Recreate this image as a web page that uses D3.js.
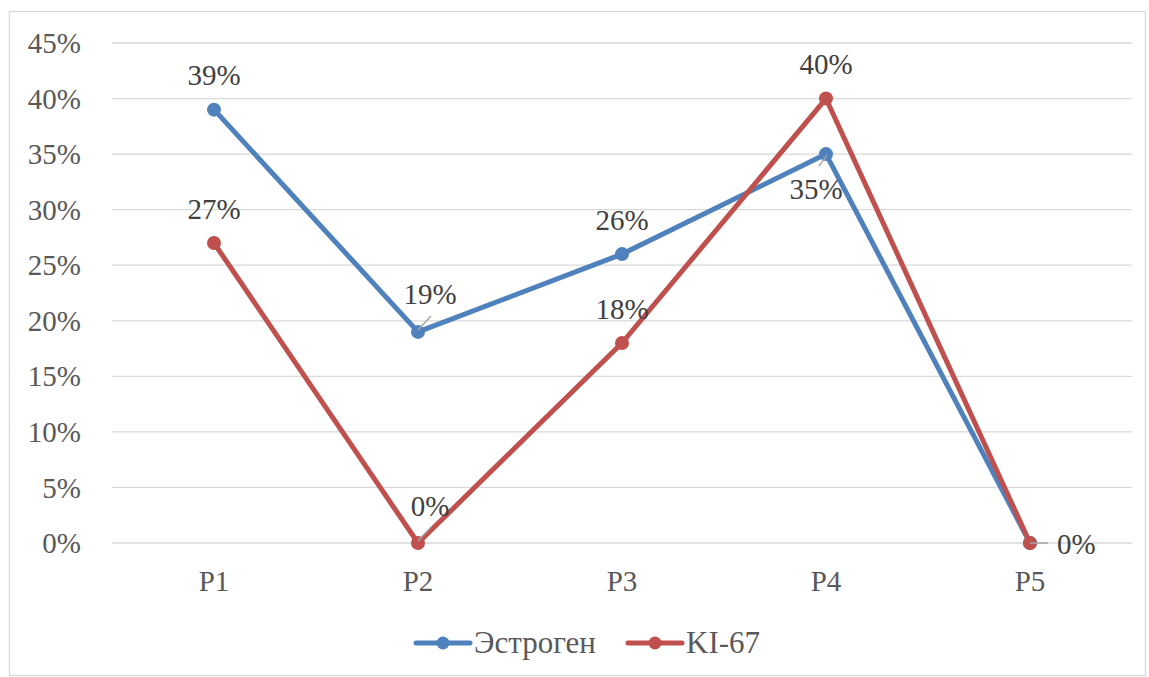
<!DOCTYPE html>
<html>
<head>
<meta charset="utf-8">
<script src="https://cdn.jsdelivr.net/npm/d3@7"></script>
<style>
  html, body { margin: 0; padding: 0; background: #fff; }
  svg { display: block; }
  svg text { font-family: "Liberation Serif", "Times New Roman", "DejaVu Serif", serif; }
</style>
</head>
<body>
<svg id="chart" width="1149" height="677"></svg>
<script>
const categories = ["P1", "P2", "P3", "P4", "P5"];
const estrogen = [0.39, 0.19, 0.26, 0.35, 0.00];
const ki67 = [0.27, 0.00, 0.18, 0.40, 0.00];
const yTicks = [0, 0.05, 0.10, 0.15, 0.20, 0.25, 0.30, 0.35, 0.40, 0.45];
const seriesNames = ["Эстроген", "KI-67"];
const seriesColors = ["#4F81BD", "#C0504D"];
// label placement per point
const estrogenLabelPos = ["above", "aboveLeader", "above", "belowLeader", "none"];
const ki67LabelPos = ["above", "aboveLeader", "above", "above", "right"];

(function () {
const svg = d3.select("#chart");
const FS = 29;

// outer border
svg.append("rect").attr("x", 9.5).attr("y", 11.5).attr("width", 1136).attr("height", 664)
  .attr("fill", "#fff").attr("stroke", "#d9d9d9").attr("stroke-width", 1.3);

const pLeft = 112, pRight = 1132, pTop = 43, pBottom = 543;
const x = d3.scaleBand().domain(categories).range([pLeft, pRight]);
const y = d3.scaleLinear().domain([0, 0.45]).range([pBottom, pTop]);
const cx = c => x(c) + x.bandwidth() / 2;

// gridlines
svg.append("g").selectAll("line").data(yTicks).join("line")
  .attr("x1", pLeft).attr("x2", pRight)
  .attr("y1", d => y(d)).attr("y2", d => y(d))
  .attr("stroke", "#d9d9d9").attr("stroke-width", 1.3);

// y axis labels
const yAxis = d3.axisLeft(y).tickValues(yTicks).tickFormat(d3.format(".0%")).tickSize(0).tickPadding(0);
const gy = svg.append("g").attr("transform", `translate(81,0)`).call(yAxis);
gy.select(".domain").remove();
gy.attr("font-family", null).attr("font-size", null);
gy.selectAll("text").attr("font-size", FS).attr("fill", "#595959").attr("dy", "0.33em");

// x axis labels
const xAxis = d3.axisBottom(x).tickSize(0).tickPadding(0);
const gx = svg.append("g").attr("transform", `translate(0,${pBottom + 38})`).call(xAxis);
gx.select(".domain").remove();
gx.attr("font-family", null).attr("font-size", null);
gx.selectAll("text").attr("font-size", FS).attr("fill", "#595959").attr("dy", "0.33em");

const series = [
  { name: seriesNames[0], values: estrogen, color: seriesColors[0], pos: estrogenLabelPos },
  { name: seriesNames[1], values: ki67, color: seriesColors[1], pos: ki67LabelPos }
];

const line = d3.line().x((d, i) => cx(categories[i])).y(d => y(d));

series.forEach(s => {
  const g = svg.append("g");
  g.append("path").datum(s.values).attr("d", line)
    .attr("fill", "none").attr("stroke", s.color).attr("stroke-width", 5)
    .attr("stroke-linejoin", "round").attr("stroke-linecap", "round");
  g.selectAll("circle").data(s.values).join("circle")
    .attr("cx", (d, i) => cx(categories[i])).attr("cy", d => y(d)).attr("r", 7)
    .attr("fill", s.color);
});

// data labels with leader lines
const fmt = d3.format(".0%");
series.forEach(s => {
  s.values.forEach((v, i) => {
    const p = s.pos[i];
    if (p === "none") return;
    const px = cx(categories[i]), py = y(v);
    let lx = px, ly = py - 34, anchor = "middle";
    if (p === "aboveLeader") {
      lx = px + 12; ly = py - 37;
      svg.append("line").attr("x1", px).attr("y1", py - 2).attr("x2", px + 13).attr("y2", py - 16)
        .attr("stroke", "#a6a6a6").attr("stroke-width", 1.5);
    } else if (p === "belowLeader") {
      lx = px - 10; ly = py + 35;
      svg.append("line").attr("x1", px + 1).attr("y1", py + 1).attr("x2", px - 7).attr("y2", py + 12)
        .attr("stroke", "#a6a6a6").attr("stroke-width", 1.5);
    } else if (p === "right") {
      lx = px + 27; ly = py + 1; anchor = "start";
      svg.append("line").attr("x1", px).attr("y1", py).attr("x2", px + 18).attr("y2", py)
        .attr("stroke", "#a6a6a6").attr("stroke-width", 1.5);
    }
    svg.append("text").attr("x", lx).attr("y", ly).attr("dy", "0.33em")
      .attr("text-anchor", anchor).attr("font-size", FS).attr("fill", "#404040")
      .text(fmt(v));
  });
});

// legend
const legendY = 643;
const legendItems = [
  { x0: 416, tx: 474 },
  { x0: 628, tx: 686 }
];
series.forEach((s, i) => {
  const L = legendItems[i];
  svg.append("line").attr("x1", L.x0).attr("x2", L.x0 + 54).attr("y1", legendY).attr("y2", legendY)
    .attr("stroke", s.color).attr("stroke-width", 5).attr("stroke-linecap", "round");
  svg.append("circle").attr("cx", L.x0 + 27).attr("cy", legendY).attr("r", 6.5).attr("fill", s.color);
  svg.append("text").attr("x", L.tx).attr("y", legendY).attr("dy", "0.33em")
    .attr("font-size", 31).attr("fill", "#595959").text(s.name);
});
})();
</script>
</body>
</html>
